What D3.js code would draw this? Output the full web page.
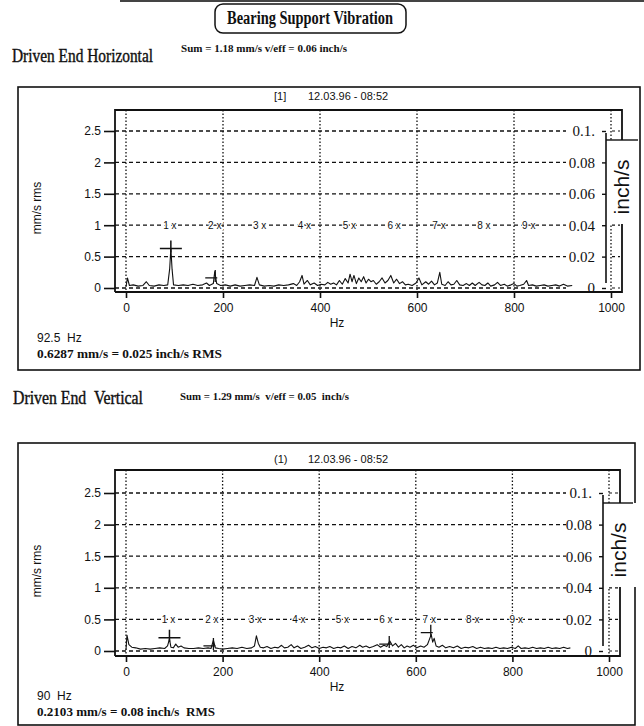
<!DOCTYPE html>
<html>
<head>
<meta charset="utf-8">
<script src="https://cdn.jsdelivr.net/npm/d3@7"></script>
<style>
body { margin: 0; background: #fff; }
text { fill: #111; white-space: pre; }
</style>
</head>
<body>
<svg width="644" height="726"></svg>
<script>
// tick values
const freqTicks = [0, 200, 400, 600, 800, 1000];
const mmTicks = [0, 0.5, 1, 1.5, 2, 2.5];
const inchTicks = [0, 0.02, 0.04, 0.06, 0.08, 0.1];
const harmonicLabels = ["1 x", "2 x", "3 x", "4 x", "5 x", "6 x", "7 x", "8 x", "9 x"];

// Driven End Horizontal  [Hz, mm/s rms]
const topSpectrum = [[0,0.02],[3,0.16],[7,0.04],[15,0.05],[25,0.03],[35,0.04],[42,0.1],[48,0.04],[58,0.03],[68,0.05],[78,0.04],[86,0.05],[90,0.3],[92.5,0.63],[95,0.3],[98,0.05],[108,0.04],[118,0.05],[128,0.04],[138,0.06],[148,0.04],[158,0.05],[166,0.08],[172,0.04],[180,0.07],[183,0.26],[187,0.07],[195,0.04],[205,0.05],[215,0.03],[225,0.05],[235,0.03],[245,0.04],[255,0.05],[265,0.04],[270,0.17],[275,0.05],[285,0.03],[295,0.04],[305,0.03],[315,0.05],[325,0.04],[335,0.05],[345,0.07],[352,0.04],[358,0.1],[363,0.2],[367,0.06],[374,0.12],[380,0.05],[388,0.08],[395,0.04],[402,0.06],[410,0.05],[416,0.09],[422,0.06],[428,0.08],[434,0.05],[440,0.12],[446,0.06],[452,0.15],[458,0.08],[462,0.22],[466,0.1],[470,0.2],[475,0.07],[480,0.16],[485,0.1],[490,0.18],[495,0.08],[500,0.14],[505,0.1],[510,0.12],[516,0.06],[522,0.1],[528,0.16],[534,0.08],[540,0.12],[546,0.2],[552,0.08],[558,0.14],[564,0.07],[570,0.1],[576,0.05],[582,0.06],[590,0.04],[598,0.08],[604,0.16],[610,0.05],[618,0.1],[624,0.06],[630,0.11],[636,0.05],[642,0.08],[647,0.25],[651,0.06],[658,0.04],[664,0.1],[670,0.05],[676,0.06],[682,0.12],[688,0.05],[695,0.04],[702,0.07],[708,0.04],[714,0.08],[720,0.04],[728,0.09],[734,0.05],[740,0.04],[746,0.08],[752,0.03],[760,0.05],[766,0.09],[772,0.04],[780,0.06],[786,0.03],[794,0.05],[800,0.07],[806,0.03],[812,0.04],[820,0.06],[826,0.12],[830,0.04],[838,0.05],[846,0.03],[854,0.04],[862,0.05],[870,0.03],[878,0.04],[886,0.05],[894,0.03],[902,0.06],[910,0.03],[920,0.04]];
const topCursor = [92.5, 0.6287];
const topMarks = [[184, 0.16]];
const topRunHz = 92.5;

// Driven End Vertical
const bottomSpectrum = [[0,0.02],[2,0.25],[6,0.1],[12,0.06],[20,0.05],[30,0.03],[40,0.04],[50,0.03],[60,0.04],[70,0.05],[80,0.04],[86,0.08],[90,0.19],[93,0.06],[98,0.05],[103,0.11],[108,0.06],[114,0.08],[120,0.05],[130,0.04],[140,0.04],[150,0.05],[160,0.04],[170,0.05],[176,0.04],[181,0.17],[185,0.05],[192,0.04],[200,0.03],[210,0.04],[220,0.05],[230,0.04],[240,0.06],[250,0.04],[260,0.05],[266,0.08],[270,0.24],[274,0.12],[278,0.06],[285,0.05],[292,0.07],[300,0.04],[308,0.06],[315,0.05],[322,0.09],[328,0.05],[335,0.06],[342,0.1],[348,0.05],[355,0.08],[362,0.04],[370,0.06],[378,0.09],[385,0.05],[392,0.07],[400,0.04],[408,0.06],[415,0.05],[422,0.07],[430,0.04],[438,0.06],[445,0.05],[452,0.08],[460,0.04],[468,0.07],[476,0.05],[484,0.09],[490,0.06],[497,0.08],[504,0.05],[512,0.07],[520,0.1],[527,0.06],[534,0.09],[540,0.07],[546,0.16],[552,0.08],[558,0.12],[564,0.06],[570,0.1],[576,0.05],[582,0.08],[588,0.06],[595,0.09],[602,0.05],[610,0.08],[617,0.06],[624,0.1],[628,0.18],[632,0.26],[635,0.14],[638,0.2],[642,0.08],[648,0.06],[655,0.09],[662,0.05],[670,0.07],[678,0.05],[686,0.08],[694,0.04],[702,0.06],[710,0.05],[718,0.07],[726,0.04],[734,0.06],[742,0.04],[750,0.05],[758,0.04],[766,0.06],[774,0.04],[782,0.05],[790,0.04],[798,0.06],[806,0.04],[812,0.08],[818,0.04],[826,0.05],[834,0.04],[842,0.06],[850,0.04],[858,0.05],[866,0.04],[874,0.06],[882,0.04],[890,0.05],[898,0.04],[906,0.06],[914,0.04],[920,0.05]];
const bottomCursor = [90, 0.2103];
const bottomMarks = [[181, 0.08], [545, 0.11], [631, 0.29]];
const bottomRunHz = 90;

const svg = d3.select("svg");
const ink = "#111";

// scan edge at the top of the page
svg.append("line").attr("x1", 120).attr("x2", 644).attr("y1", 1).attr("y2", 1)
    .attr("stroke", "#444").attr("stroke-width", 2);

// title
svg.append("rect").attr("x", 215).attr("y", 4).attr("width", 191).attr("height", 29).attr("rx", 8)
    .attr("fill", "none").attr("stroke", ink).attr("stroke-width", 1.5);
svg.append("text").attr("x", 227).attr("y", 24).attr("textLength", 166).attr("lengthAdjust", "spacingAndGlyphs")
    .style("font", "bold 18px 'Liberation Serif'").text("Bearing Support Vibration");

function heading(x, y, w, label) {
    svg.append("text").attr("x", x).attr("y", y).attr("textLength", w).attr("lengthAdjust", "spacingAndGlyphs")
        .style("font", "18px 'Liberation Serif'").style("stroke", ink).style("stroke-width", 0.4).text(label);
}
function sumLine(x, y, w, label) {
    svg.append("text").attr("x", x).attr("y", y).attr("textLength", w).attr("lengthAdjust", "spacingAndGlyphs")
        .style("font", "bold 11px 'Liberation Serif'").text(label);
}

heading(12, 62, 141, "Driven End Horizontal");
sumLine(181, 52, 166, "Sum = 1.18 mm/s v/eff = 0.06 inch/s");
heading(13, 404, 130, "Driven End  Vertical");
sumLine(180, 400, 169, "Sum = 1.29 mm/s  v/eff = 0.05  inch/s");

function drawPanel(p) {
    const x = d3.scaleLinear().domain([0, 1000]).range([126, p.x1000]);
    const y = d3.scaleLinear().domain([0, 2.5]).range([p.zero, p.y25]);
    const yInch = d3.scaleLinear().domain([0, 0.1]).range([p.zero, p.y25]);
    const g = svg.append("g");

    g.append("rect").attr("x", p.box[0]).attr("y", p.box[1])
        .attr("width", p.box[2] - p.box[0]).attr("height", p.box[3] - p.box[1])
        .attr("fill", "none").attr("stroke", ink).attr("stroke-width", 1.6);

    // header
    g.append("text").attr("x", 274).attr("y", p.header).style("font", "11px 'Liberation Sans'").text(p.run);
    g.append("text").attr("x", 308).attr("y", p.header).style("font", "11px 'Liberation Sans'").text("12.03.96 - 08:52");

    // grid
    g.selectAll(".hg").data(mmTicks).join("line")
        .attr("x1", 115).attr("x2", 566).attr("y1", d => y(d)).attr("y2", d => y(d))
        .attr("stroke", ink).attr("stroke-width", 1.3).attr("stroke-dasharray", "4,3");
    g.selectAll(".hg2").data(mmTicks).join("line")
        .attr("x1", p.inchX + 6).attr("x2", p.right - 2).attr("y1", d => y(d)).attr("y2", d => y(d))
        .attr("stroke", ink).attr("stroke-width", 1.2).attr("stroke-dasharray", "3,3");
    g.selectAll(".vg").data(freqTicks).join("line")
        .attr("x1", d => x(d)).attr("x2", d => x(d)).attr("y1", p.frameTop).attr("y2", p.axisY)
        .attr("stroke", ink).attr("stroke-width", 1.3).attr("stroke-dasharray", "1.5,2");

    // frame
    g.append("path")
        .attr("d", `M115,${p.axisY}V${p.frameTop}H${p.right}V${p.axisY}H115`)
        .attr("fill", "none").attr("stroke", ink).attr("stroke-width", 1.8);

    // left axis
    const ly = g.append("g").attr("transform", "translate(115,0)")
        .call(d3.axisLeft(y).tickValues(mmTicks).tickSize(11).tickPadding(3).tickFormat(d3.format("~g")));
    ly.select(".domain").remove();
    ly.selectAll("line").attr("stroke", ink).attr("stroke-width", 1.6);
    ly.selectAll("text").style("font", "12px 'Liberation Sans'").attr("fill", ink);

    // bottom axis
    const bx = g.append("g").attr("transform", `translate(0,${p.axisY})`)
        .call(d3.axisBottom(x).tickValues(freqTicks).tickSize(6).tickPadding(5).tickFormat(d3.format("d")));
    bx.select(".domain").remove();
    bx.selectAll("line").attr("stroke", ink).attr("stroke-width", 1.6);
    bx.selectAll("text").style("font", "12px 'Liberation Sans'").attr("fill", ink);
    g.append("text").attr("x", 337).attr("y", p.axisY + 35).attr("text-anchor", "middle")
        .style("font", "12px 'Liberation Sans'").text("Hz");

    // box behind the inch/s label
    g.append("rect").attr("x", p.inchX + 1).attr("y", p.zero - 148)
        .attr("width", 640 - p.inchX - 4).attr("height", 84).attr("fill", "#fff");
    g.append("line").attr("x1", p.inchX).attr("x2", p.box[2] - 2).attr("y1", p.zero - 148).attr("y2", p.zero - 148)
        .attr("stroke", ink).attr("stroke-width", 1.4);

    // right axis in inch/s
    const ry = g.append("g").attr("transform", `translate(${p.inchX},0)`)
        .call(d3.axisLeft(yInch).tickValues(inchTicks).tickSize(4).tickPadding(7)
            .tickFormat(d => d === 0 ? "0" : d === 0.1 ? "0.1." : d3.format(".2f")(d)));
    ry.select(".domain").remove();
    ry.selectAll("line").attr("stroke", ink).attr("stroke-width", 1.4);
    ry.selectAll("text").style("font", "15px 'Liberation Serif'").attr("fill", ink);
    g.append("line").attr("x1", p.inchX).attr("x2", p.inchX).attr("y1", p.y25 + 2).attr("y2", p.zero - 5)
        .attr("stroke", ink).attr("stroke-width", 1.6);
    g.append("text").attr("transform", `translate(${p.inchX + 23},${p.zero - 101}) rotate(-90)`)
        .attr("text-anchor", "middle").style("font", "21px 'Liberation Sans'").text("inch/s");

    // harmonic markers
    g.selectAll(".hl").data(harmonicLabels).join("text")
        .attr("x", (d, i) => x((i + 1) * p.runHz) - 1).attr("y", y(p.harmonicLevel) + 3.5)
        .attr("text-anchor", "middle").style("font", "10px 'Liberation Sans'")
        .attr("stroke", "#fff").attr("stroke-width", 2.5).attr("paint-order", "stroke")
        .text(d => d);

    // spectrum
    g.append("path").datum(p.spectrum)
        .attr("d", d3.line().x(d => x(d[0])).y(d => y(d[1])))
        .attr("fill", "none").attr("stroke", ink).attr("stroke-width", 1.1).attr("stroke-linejoin", "round");

    // cursor
    const cx = x(p.cursor[0]), cy = y(p.cursor[1]);
    g.append("path").attr("d", `M${cx - 11},${cy}H${cx + 11}M${cx},${cy - 8}V${cy + 4}`)
        .attr("stroke", ink).attr("stroke-width", 1.5);
    g.selectAll(".mk").data(p.marks).join("path")
        .attr("d", d => `M${x(d[0]) - 10},${y(d[1])}H${x(d[0]) + 2}M${x(d[0])},${y(d[1]) - 8}V${y(d[1]) + 4}`)
        .attr("stroke", ink).attr("stroke-width", 1.3);

    // left axis title
    g.append("text").attr("transform", `translate(41,${p.zero - 80}) rotate(-90)`)
        .attr("text-anchor", "middle").style("font", "12px 'Liberation Sans'").text("mm/s rms");

    // cursor readout
    g.append("text").attr("x", 37).attr("y", p.readY).style("font", "12px 'Liberation Sans'").text(p.readHz);
    g.append("text").attr("x", 37).attr("y", p.readY + 16).attr("textLength", p.readW).attr("lengthAdjust", "spacingAndGlyphs")
        .style("font", "bold 12px 'Liberation Serif'").text(p.readVal);
}

drawPanel({
    box: [18, 87, 640, 370], header: 100, run: "[1]", frameTop: 110, zero: 288, y25: 131, axisY: 292,
    x1000: 611, right: 622, inchX: 606, harmonicLevel: 1, runHz: topRunHz,
    spectrum: topSpectrum, cursor: topCursor, marks: topMarks,
    readY: 342, readHz: "92.5  Hz", readVal: "0.6287 mm/s = 0.025 inch/s RMS", readW: 185
});
drawPanel({
    box: [18, 443, 635, 725], header: 463, run: "(1)", frameTop: 470, zero: 651, y25: 493, axisY: 656,
    x1000: 609, right: 620, inchX: 603, harmonicLevel: 0.5, runHz: bottomRunHz,
    spectrum: bottomSpectrum, cursor: bottomCursor, marks: bottomMarks,
    readY: 700, readHz: "90  Hz", readVal: "0.2103 mm/s = 0.08 inch/s  RMS", readW: 178
});
</script>
</body>
</html>
